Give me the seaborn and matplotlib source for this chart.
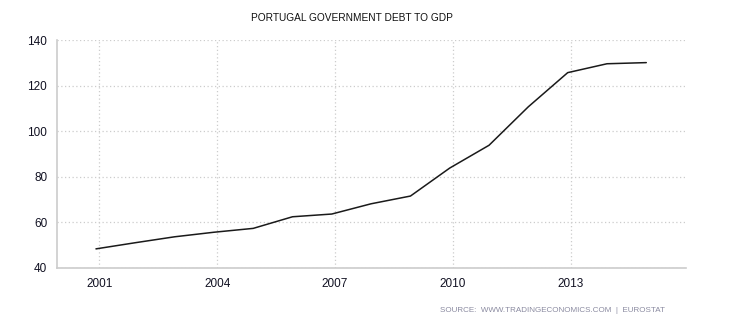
import matplotlib
matplotlib.use("Agg")
import matplotlib.pyplot as plt
import matplotlib.dates as mdates
import pandas as pd
import seaborn as sns

dates = ["2000-12-01", "2001-12-01", "2002-12-01", "2003-12-01", "2004-12-01",
         "2005-12-01", "2006-12-01", "2007-12-01", "2008-12-01", "2009-12-01",
         "2010-12-01", "2011-12-01", "2012-12-01", "2013-12-01", "2014-12-01"]
debt = [48.4, 51.1, 53.7, 55.7, 57.4, 62.5, 63.7, 68.2, 71.6, 83.9,
        93.9, 110.8, 125.8, 129.7, 130.2]
tick_years = ["2001", "2004", "2007", "2010", "2013"]
y_ticks = [40, 60, 80, 100, 120, 140]
title = "PORTUGAL GOVERNMENT DEBT TO GDP"
source = "SOURCE:  WWW.TRADINGECONOMICS.COM  |  EUROSTAT"

sns.set_theme(style="white")
plt.rcParams["font.family"] = ["Liberation Sans", "DejaVu Sans"]

df = pd.DataFrame({"date": pd.to_datetime(dates), "debt": debt})

fig = plt.figure(figsize=(7.45, 3.24), dpi=100)
ax = fig.add_axes([57 / 745, 1 - 268 / 324, (686 - 57) / 745, (268 - 40.3) / 324])

sns.lineplot(data=df, x="date", y="debt", ax=ax, color="#1a1a1a", linewidth=1.1)

ax.set_xlim(pd.Timestamp("1999-12-05"), pd.Timestamp("2015-12-05"))
ax.set_ylim(40, 140)
ax.set_xticks([pd.Timestamp(f"{y}-01-01") for y in tick_years])
ax.xaxis.set_major_formatter(mdates.DateFormatter("%Y"))
ax.set_yticks(y_ticks)
ax.set_xlabel("")
ax.set_ylabel("")

ax.grid(True, color="#cccccc", linestyle=(0, (1, 2)), linewidth=0.9)
for s in ["top", "right"]:
    ax.spines[s].set_visible(False)
for s in ["left", "bottom"]:
    ax.spines[s].set_color("#cccccc")
    ax.spines[s].set_linewidth(1.2)

ax.tick_params(axis="y", length=5, width=1, color="#cccccc", pad=2,
               labelsize=8.5, labelcolor="#111122")
ax.tick_params(axis="x", length=0, pad=7, labelsize=8.5, labelcolor="#111122")

fig.text(352 / 745, 1 - 18 / 324, title, ha="center", va="center",
         fontsize=7.3, color="#111111")
fig.text(665 / 745, 1 - 310 / 324, source, ha="right", va="center",
         fontsize=5.8, color="#8a8aa0")

fig.savefig("out.png", dpi=100)
